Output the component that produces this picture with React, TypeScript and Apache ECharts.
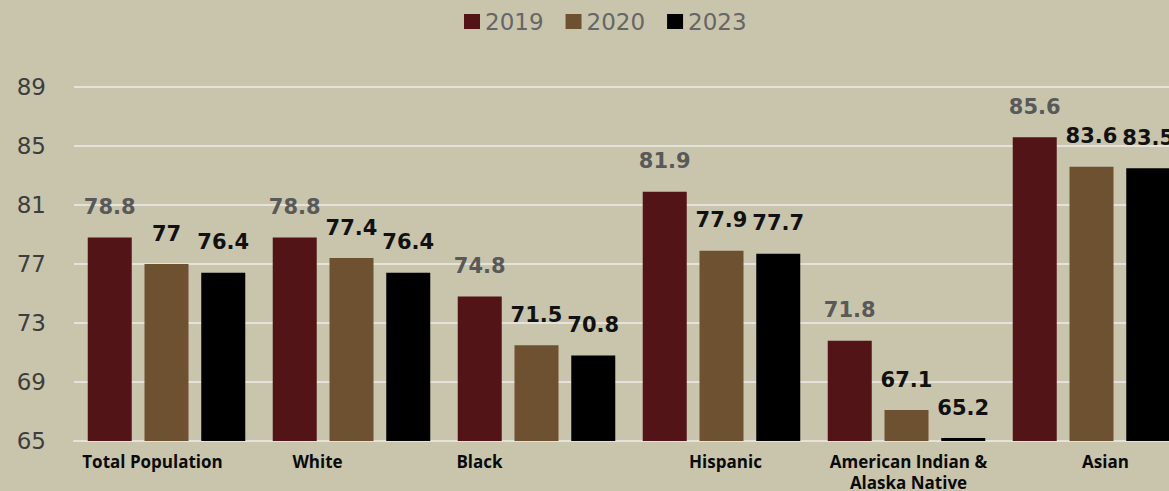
import React, { useEffect, useRef } from "react";
import * as echarts from "echarts";

const categories = [
  "Total Population",
  "White",
  "Black",
  "Hispanic",
  "American Indian &\nAlaska Native",
  "Asian",
];
const seriesNames = ["2019", "2020", "2023"];
const values2019 = [78.8, 78.8, 74.8, 81.9, 71.8, 85.6];
const values2020 = [77, 77.4, 71.5, 77.9, 67.1, 83.6];
const values2023 = [76.4, 76.4, 70.8, 77.7, 65.2, 83.5];
const yMin = 65;
const yMax = 89;
const yStep = 4;

// styling (horizontal offset of each category label, in px)
const labelShift = [-14, -34, -57, 4, 2, 14];
const colors = ["#521416", "#6e5130", "#000000"];
const labelColors = ["#595959", "#111111", "#111111"];

export default function App() {
  const ref = useRef<HTMLDivElement>(null);
  useEffect(() => {
    document.body.style.margin = "0";
    const chart = echarts.init(ref.current!, null, { renderer: "svg" });
    const rich: any = {};
    labelShift.forEach((s, i) => {
      rich["s" + i] = {
        fontFamily: "Open Sans",
        fontWeight: "bold",
        fontSize: 17,
        color: "#0a0a0a",
        lineHeight: 21,
        padding: s < 0 ? [0, -2 * s, 0, 0] : [0, 0, 0, 2 * s],
      };
    });
    const all = [values2019, values2020, values2023];
    chart.setOption({
      animation: false,
      backgroundColor: "#c9c5ad",
      legend: {
        top: 10,
        left: 464,
        padding: 0,
        itemWidth: 16,
        itemHeight: 15,
        itemGap: 22,
        icon: "rect",
        textStyle: { fontFamily: "DejaVu Sans", fontSize: 23, color: "#666666" },
        data: seriesNames,
      },
      grid: { left: 74, right: -15, top: 87, bottom: 50, containLabel: false, outerBoundsMode: "none" },
      xAxis: {
        type: "category",
        data: categories,
        axisLine: { lineStyle: { color: "#e4e2da", width: 2 } },
        axisTick: { show: false },
        axisLabel: {
          margin: 10,
          interval: 0,
          formatter: (v: string, i: number) =>
            v
              .split("\n")
              .map((l) => `{s${i}|${l}}`)
              .join("\n"),
          rich,
        },
      },
      yAxis: {
        type: "value",
        min: 0,
        max: yMax - yMin,
        interval: yStep,
        axisLine: { show: false },
        axisTick: { show: false },
        splitLine: { lineStyle: { color: "#e4e2da", width: 2 } },
        axisLabel: {
          margin: 28,
          fontFamily: "DejaVu Sans",
          fontSize: 23,
          color: "#3d3d3d",
          formatter: (v: number) => String(v + yMin),
        },
      },
      series: seriesNames.map((name, si) => ({
        name,
        type: "bar",
        barWidth: 44,
        barGap: "29%",
        data: all[si].map((v) => v - yMin),
        itemStyle: { color: colors[si] },
        label: {
          show: true,
          position: "top",
          distance: 20,
          fontFamily: "DejaVu Sans",
          fontWeight: "bold",
          fontSize: 21,
          color: labelColors[si],
          formatter: (p: any) => String(all[si][p.dataIndex]),
        },
      })),
    });
    return () => chart.dispose();
  }, []);
  return <div ref={ref} style={{ width: 1169, height: 491 }} />;
}
